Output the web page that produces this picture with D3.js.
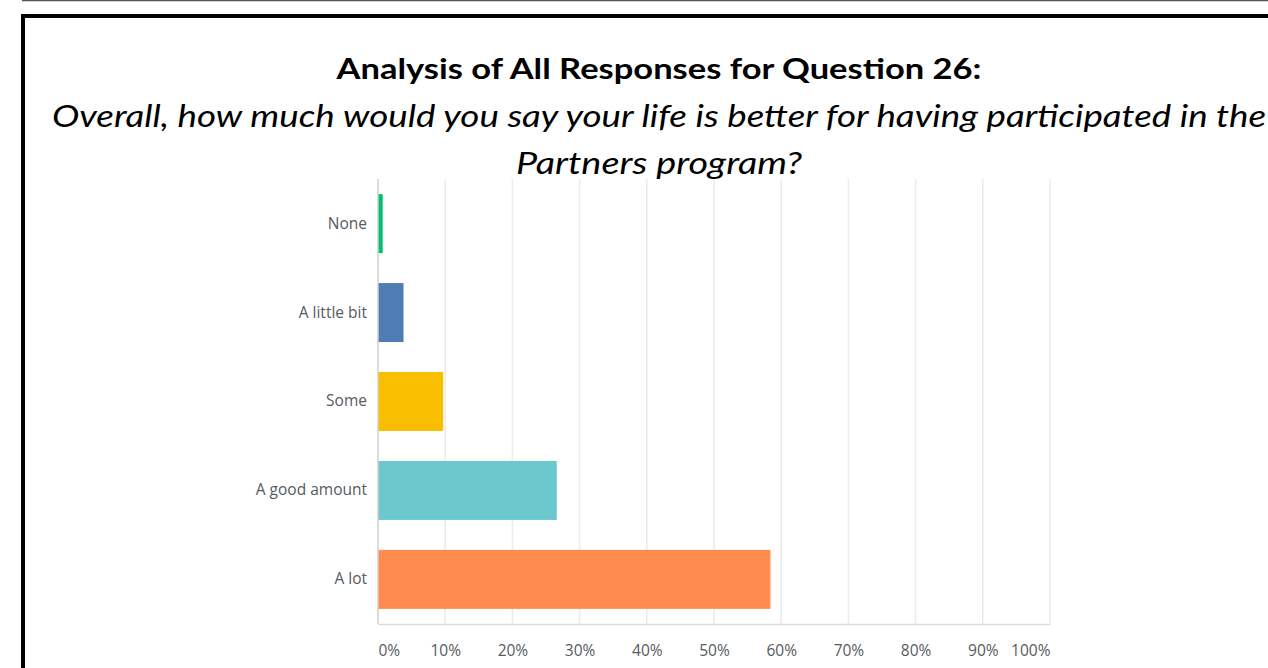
<!DOCTYPE html>
<html>
<head>
<meta charset="utf-8">
<script src="https://cdn.jsdelivr.net/npm/d3@7"></script>
<style>
  html, body { margin: 0; padding: 0; background: #fff; overflow: hidden; }
</style>
</head>
<body>
<script>
var categories = ["None", "A little bit", "Some", "A good amount", "A lot"];
var percents = [0.7, 3.8, 9.7, 26.6, 58.4];
var barColors = ["#00bf6f", "#507cb6", "#f9be00", "#6bc8cd", "#ff8b4f"];
var tickValues = [0, 10, 20, 30, 40, 50, 60, 70, 80, 90, 100];
var titleText = "Analysis of All Responses for Question 26:";
var subtitleLines = ["Overall, how much would you say your life is better for having participated in the",
                     "Partners program?"];
var subtitleWidths = [1214, 286];

var width = 1268,
    height = 668;

var svg = d3.select("body").append("svg")
    .attr("width", width)
    .attr("height", height);

// page frame
svg.append("line")
    .attr("x1", 22).attr("x2", width)
    .attr("y1", 0.5).attr("y2", 0.5)
    .attr("stroke", "#555").attr("stroke-width", 1.5);

svg.append("path")
    .attr("d", "M23," + height + " V16 H" + (width + 5))
    .attr("fill", "none")
    .attr("stroke", "#000")
    .attr("stroke-width", 4);

// titles (the source image is stretched sideways, so fit the widths)
svg.append("text")
    .attr("x", 659).attr("y", 79)
    .attr("text-anchor", "middle")
    .attr("textLength", 645)
    .attr("lengthAdjust", "spacingAndGlyphs")
    .style("font-family", "Lato, 'Open Sans', sans-serif")
    .style("font-weight", "bold")
    .style("font-size", "28px")
    .attr("fill", "#000")
    .text(titleText);

svg.selectAll("text.sub")
    .data(subtitleLines)
  .enter().append("text")
    .attr("class", "sub")
    .attr("x", 659)
    .attr("y", function(d, i) { return 127 + i * 47; })
    .attr("text-anchor", "middle")
    .attr("textLength", function(d, i) { return subtitleWidths[i]; })
    .attr("lengthAdjust", "spacingAndGlyphs")
    .style("font-family", "Lato, 'Open Sans', sans-serif")
    .style("font-style", "italic")
    .style("font-size", "30px")
    .attr("fill", "#000")
    .text(function(d) { return d; });

// chart
var x = d3.scaleLinear().domain([0, 100]).range([378, 1050]);
var y = d3.scaleBand().domain(categories).range([179, 624]).paddingInner(0.337).paddingOuter(0.17);

var g = svg.append("g");

g.selectAll("line.grid")
    .data(tickValues.slice(1))
  .enter().append("line")
    .attr("class", "grid")
    .attr("x1", function(d) { return x(d); })
    .attr("x2", function(d) { return x(d); })
    .attr("y1", 179).attr("y2", 624)
    .attr("stroke", "#ebebeb").attr("stroke-width", 1.5);

g.selectAll("rect.bar")
    .data(percents)
  .enter().append("rect")
    .attr("class", "bar")
    .attr("x", x(0))
    .attr("y", function(d, i) { return y(categories[i]); })
    .attr("width", function(d) { return x(d) - x(0); })
    .attr("height", y.bandwidth())
    .attr("fill", function(d, i) { return barColors[i]; });

// left axis line
g.append("line")
    .attr("x1", x(0)).attr("x2", x(0))
    .attr("y1", 179).attr("y2", 624)
    .attr("stroke", "#d0d0d0").attr("stroke-width", 1.5);

// bottom axis line
g.append("line")
    .attr("x1", x(0)).attr("x2", x(100))
    .attr("y1", 624.5).attr("y2", 624.5)
    .attr("stroke", "#dcdcdc").attr("stroke-width", 1.5);

// category labels
var yAxis = d3.axisLeft(y).tickSize(0).tickPadding(11);
var ya = svg.append("g").attr("transform", "translate(" + x(0) + ",0)").call(yAxis);
ya.select(".domain").remove();
ya.selectAll("text")
    .style("font-family", "'Open Sans', sans-serif")
    .style("font-size", "15.5px")
    .attr("fill", "#555b61");

// percent labels
var xAxis = d3.axisBottom(x).tickValues(tickValues).tickSize(0).tickPadding(0)
    .tickFormat(function(d) { return d + "%"; });
var xa = svg.append("g").attr("transform", "translate(0,645)").call(xAxis);
xa.select(".domain").remove();
xa.selectAll("text")
    .style("font-family", "'Open Sans', sans-serif")
    .style("font-size", "15.5px")
    .attr("fill", "#555b61")
    .attr("text-anchor", function(d) { return d === 0 ? "start" : (d === 100 ? "end" : "middle"); });
</script>
</body>
</html>
